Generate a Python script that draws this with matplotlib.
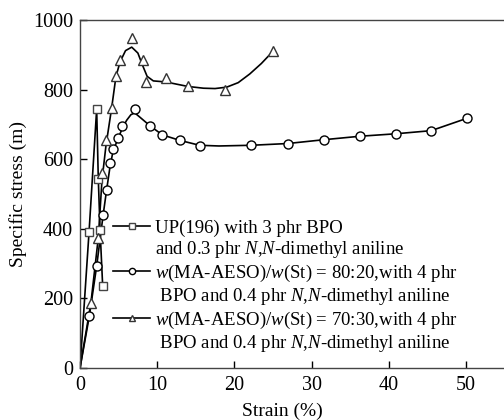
import matplotlib
matplotlib.use("Agg")
import matplotlib.pyplot as plt
from matplotlib.lines import Line2D

plt.rcParams['font.family'] = ['Liberation Serif', 'DejaVu Serif']
plt.rcParams['mathtext.fontset'] = 'custom'
plt.rcParams['mathtext.rm'] = 'Liberation Serif'
plt.rcParams['mathtext.it'] = 'Liberation Serif:italic'

# UP(196) markers / line
up_x = [0, 1.17, 2.16, 2.37, 2.6, 2.94]
up_y = [0, 390, 744, 544, 397, 235]

# 80:20 markers
c_x = [1.2, 2.16, 3.0, 3.45, 3.9, 4.3, 4.97, 5.5, 7.12, 9.07, 10.66, 12.95, 15.5,
       22.2, 26.9, 31.6, 36.3, 40.9, 45.5, 50.2]
c_y = [148, 293, 440, 512, 589, 630, 661, 696, 744, 696, 670, 656, 637,
       640, 645, 656, 666, 673, 682, 718]
# 80:20 fitted curve as drawn
c_line_x = [0, 1.2, 2.16, 3.0, 3.45, 3.9, 4.3, 4.97, 5.5, 6.05, 6.6, 7.1, 7.8, 9.07,
            10.66, 12.95, 15.5, 18.0, 22.2, 26.9, 31.6, 36.3, 40.9, 45.5, 50.2]
c_line_y = [0, 148, 293, 440, 512, 580, 625, 661, 690, 712, 728, 733, 720, 696,
            670, 654, 640, 638, 640, 645, 656, 666, 673, 682, 718]

# 70:30 markers
t_x = [1.42, 2.37, 2.85, 3.37, 4.1, 4.66, 5.2, 6.7, 8.1, 8.55, 11.1, 14.0, 18.8, 25.0]
t_y = [188, 374, 561, 655, 747, 838, 886, 947, 886, 821, 832, 811, 798, 910]
# 70:30 fitted curve as drawn
t_line_x = [0, 1.42, 2.37, 2.85, 3.37, 4.1, 4.66, 5.2, 5.9, 6.7, 7.5, 8.1, 8.7, 9.5,
            11.1, 14.0, 16.0, 17.5, 19.0, 20.5, 22.0, 23.5, 25.0]
t_line_y = [0, 188, 374, 540, 640, 747, 838, 880, 912, 922, 905, 870, 838, 825,
            822, 809, 804, 803, 807, 820, 845, 875, 910]

legend_lines = [
    "UP(196) with 3 phr BPO",
    "and 0.3 phr $N{,}N$-dimethyl aniline",
    "$w$(MA-AESO)/$w$(St) = 80:20,with 4 phr",
    " BPO and 0.4 phr $N{,}N$-dimethyl aniline",
    "$w$(MA-AESO)/$w$(St) = 70:30,with 4 phr",
    " BPO and 0.4 phr $N{,}N$-dimethyl aniline",
]

fig = plt.figure(figsize=(5.04, 4.2), dpi=100)
ax = fig.add_axes([80 / 504, 52 / 420, 426 / 504, 348 / 420])

lw = 1.2
ax.plot(up_x, up_y, color='black', lw=lw)
ax.plot(c_line_x, c_line_y, color='black', lw=lw)
ax.plot(t_line_x, t_line_y, color='black', lw=lw)
ax.plot(up_x[1:], up_y[1:], ls='none', marker='s', ms=6, mfc='white', mec='#444444', mew=1)
ax.plot(c_x, c_y, ls='none', marker='o', ms=6.5, mfc='white', mec='black', mew=1)
ax.plot(t_x, t_y, ls='none', marker='^', ms=7.5, mfc='white', mec='#333333', mew=1)

# legend proxies; blank handles for the continuation lines
h1 = Line2D([], [], color='black', lw=lw, marker='s', ms=4.5, mfc='white', mec='#444444')
h2 = Line2D([], [], color='black', lw=lw, marker='o', ms=4.5, mfc='white', mec='black')
h3 = Line2D([], [], color='black', lw=lw, marker='^', ms=5, mfc='white', mec='#333333')
blank = Line2D([], [], ls='none', marker='none')
leg = ax.legend([h1, blank, h2, blank, h3, blank], legend_lines,
                loc='lower left', bbox_to_anchor=(0.077, 0.04),
                frameon=False, fontsize=13.5, handlelength=2.0, handletextpad=0.25,
                labelspacing=0.13, borderpad=0, borderaxespad=0)

ax.set_xlim(0, 55.2)
ax.set_ylim(0, 1000)
ax.set_xticks([0, 10, 20, 30, 40, 50])
ax.set_yticks([0, 200, 400, 600, 800, 1000])
ax.tick_params(direction='in', length=5, width=1, labelsize=14.5)
ax.tick_params(axis='y', pad=5)
ax.tick_params(axis='x', pad=6)
for s in ax.spines.values():
    s.set_color('#444444')
    s.set_linewidth(1)

ax.set_xlabel('Strain (%)', fontsize=14)
ax.set_ylabel('Specific stress (m)', fontsize=14)
ax.xaxis.set_label_coords(0.475, -0.1)
ax.yaxis.set_label_coords(-0.125, 0.5)

fig.savefig('out.png', dpi=100)
